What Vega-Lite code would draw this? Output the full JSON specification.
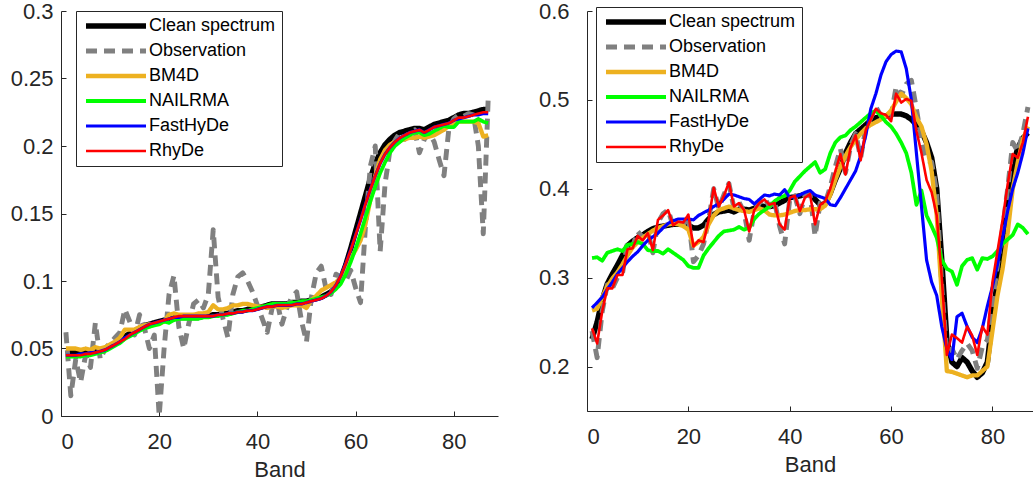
{
"$schema": "https://vega.github.io/schema/vega-lite/v6.json",
"padding": {"left": 10, "top": 0, "right": 0, "bottom": 0},
"background": "white",
"config": {
  "view": {"stroke": null},
  "font": "Liberation Sans",
  "axis": {"domainColor": "#262626", "tickColor": "#262626", "labelColor": "#262626", "titleColor": "#262626", "labelFont": "Liberation Sans", "titleFont": "Liberation Sans", "labelFontSize": 22, "titleFontSize": 22, "titleFontWeight": "normal", "grid": false, "tickSize": -5, "domainWidth": 1, "tickWidth": 1},
  "line": {"strokeCap": "butt", "strokeJoin": "round"}
},
"spacing": 40,
"datasets": {
"left": [
{"series":"Clean spectrum","band":1,"value":0.047},{"series":"Clean spectrum","band":2,"value":0.047},{"series":"Clean spectrum","band":3,"value":0.047},{"series":"Clean spectrum","band":4,"value":0.047},{"series":"Clean spectrum","band":5,"value":0.047},{"series":"Clean spectrum","band":6,"value":0.048},{"series":"Clean spectrum","band":7,"value":0.048},{"series":"Clean spectrum","band":8,"value":0.049},{"series":"Clean spectrum","band":9,"value":0.050},{"series":"Clean spectrum","band":10,"value":0.052},
{"series":"Clean spectrum","band":11,"value":0.054},{"series":"Clean spectrum","band":12,"value":0.056},{"series":"Clean spectrum","band":13,"value":0.059},{"series":"Clean spectrum","band":14,"value":0.061},{"series":"Clean spectrum","band":15,"value":0.063},{"series":"Clean spectrum","band":16,"value":0.065},{"series":"Clean spectrum","band":17,"value":0.067},{"series":"Clean spectrum","band":18,"value":0.068},{"series":"Clean spectrum","band":19,"value":0.069},{"series":"Clean spectrum","band":20,"value":0.070},
{"series":"Clean spectrum","band":21,"value":0.071},{"series":"Clean spectrum","band":22,"value":0.072},{"series":"Clean spectrum","band":23,"value":0.073},{"series":"Clean spectrum","band":24,"value":0.073},{"series":"Clean spectrum","band":25,"value":0.073},{"series":"Clean spectrum","band":26,"value":0.073},{"series":"Clean spectrum","band":27,"value":0.073},{"series":"Clean spectrum","band":28,"value":0.073},{"series":"Clean spectrum","band":29,"value":0.074},{"series":"Clean spectrum","band":30,"value":0.074},
{"series":"Clean spectrum","band":31,"value":0.075},{"series":"Clean spectrum","band":32,"value":0.075},{"series":"Clean spectrum","band":33,"value":0.076},{"series":"Clean spectrum","band":34,"value":0.076},{"series":"Clean spectrum","band":35,"value":0.077},{"series":"Clean spectrum","band":36,"value":0.078},{"series":"Clean spectrum","band":37,"value":0.078},{"series":"Clean spectrum","band":38,"value":0.079},{"series":"Clean spectrum","band":39,"value":0.079},{"series":"Clean spectrum","band":40,"value":0.080},
{"series":"Clean spectrum","band":41,"value":0.081},{"series":"Clean spectrum","band":42,"value":0.082},{"series":"Clean spectrum","band":43,"value":0.083},{"series":"Clean spectrum","band":44,"value":0.083},{"series":"Clean spectrum","band":45,"value":0.083},{"series":"Clean spectrum","band":46,"value":0.083},{"series":"Clean spectrum","band":47,"value":0.084},{"series":"Clean spectrum","band":48,"value":0.084},{"series":"Clean spectrum","band":49,"value":0.085},{"series":"Clean spectrum","band":50,"value":0.085},
{"series":"Clean spectrum","band":51,"value":0.086},{"series":"Clean spectrum","band":52,"value":0.087},{"series":"Clean spectrum","band":53,"value":0.088},{"series":"Clean spectrum","band":54,"value":0.090},{"series":"Clean spectrum","band":55,"value":0.092},{"series":"Clean spectrum","band":56,"value":0.096},{"series":"Clean spectrum","band":57,"value":0.102},{"series":"Clean spectrum","band":58,"value":0.112},{"series":"Clean spectrum","band":59,"value":0.124},{"series":"Clean spectrum","band":60,"value":0.137},
{"series":"Clean spectrum","band":61,"value":0.150},{"series":"Clean spectrum","band":62,"value":0.163},{"series":"Clean spectrum","band":63,"value":0.176},{"series":"Clean spectrum","band":64,"value":0.187},{"series":"Clean spectrum","band":65,"value":0.195},{"series":"Clean spectrum","band":66,"value":0.201},{"series":"Clean spectrum","band":67,"value":0.205},{"series":"Clean spectrum","band":68,"value":0.208},{"series":"Clean spectrum","band":69,"value":0.210},{"series":"Clean spectrum","band":70,"value":0.211},
{"series":"Clean spectrum","band":71,"value":0.212},{"series":"Clean spectrum","band":72,"value":0.213},{"series":"Clean spectrum","band":73,"value":0.213},{"series":"Clean spectrum","band":74,"value":0.212},{"series":"Clean spectrum","band":75,"value":0.214},{"series":"Clean spectrum","band":76,"value":0.216},{"series":"Clean spectrum","band":77,"value":0.217},{"series":"Clean spectrum","band":78,"value":0.218},{"series":"Clean spectrum","band":79,"value":0.219},{"series":"Clean spectrum","band":80,"value":0.221},
{"series":"Clean spectrum","band":81,"value":0.223},{"series":"Clean spectrum","band":82,"value":0.224},{"series":"Clean spectrum","band":83,"value":0.224},{"series":"Clean spectrum","band":84,"value":0.225},{"series":"Clean spectrum","band":85,"value":0.226},{"series":"Clean spectrum","band":86,"value":0.227},{"series":"Clean spectrum","band":87,"value":0.227},
{"series":"Observation","band":1,"value":0.062},{"series":"Observation","band":2,"value":0.015},{"series":"Observation","band":3,"value":0.042},{"series":"Observation","band":4,"value":0.025},{"series":"Observation","band":5,"value":0.045},{"series":"Observation","band":6,"value":0.036},{"series":"Observation","band":7,"value":0.069},{"series":"Observation","band":8,"value":0.042},{"series":"Observation","band":9,"value":0.050},{"series":"Observation","band":10,"value":0.054},
{"series":"Observation","band":11,"value":0.058},{"series":"Observation","band":12,"value":0.062},{"series":"Observation","band":13,"value":0.079},{"series":"Observation","band":14,"value":0.070},{"series":"Observation","band":15,"value":0.060},{"series":"Observation","band":16,"value":0.075},{"series":"Observation","band":17,"value":0.065},{"series":"Observation","band":18,"value":0.050},{"series":"Observation","band":19,"value":0.060},{"series":"Observation","band":20,"value":0.000},
{"series":"Observation","band":21,"value":0.050},{"series":"Observation","band":22,"value":0.090},{"series":"Observation","band":23,"value":0.104},{"series":"Observation","band":24,"value":0.066},{"series":"Observation","band":25,"value":0.050},{"series":"Observation","band":26,"value":0.068},{"series":"Observation","band":27,"value":0.083},{"series":"Observation","band":28,"value":0.086},{"series":"Observation","band":29,"value":0.080},{"series":"Observation","band":30,"value":0.090},
{"series":"Observation","band":31,"value":0.138},{"series":"Observation","band":32,"value":0.088},{"series":"Observation","band":33,"value":0.072},{"series":"Observation","band":34,"value":0.058},{"series":"Observation","band":35,"value":0.090},{"series":"Observation","band":36,"value":0.103},{"series":"Observation","band":37,"value":0.106},{"series":"Observation","band":38,"value":0.100},{"series":"Observation","band":39,"value":0.092},{"series":"Observation","band":40,"value":0.082},
{"series":"Observation","band":41,"value":0.072},{"series":"Observation","band":42,"value":0.062},{"series":"Observation","band":43,"value":0.080},{"series":"Observation","band":44,"value":0.085},{"series":"Observation","band":45,"value":0.068},{"series":"Observation","band":46,"value":0.080},{"series":"Observation","band":47,"value":0.088},{"series":"Observation","band":48,"value":0.092},{"series":"Observation","band":49,"value":0.070},{"series":"Observation","band":50,"value":0.055},
{"series":"Observation","band":51,"value":0.088},{"series":"Observation","band":52,"value":0.106},{"series":"Observation","band":53,"value":0.111},{"series":"Observation","band":54,"value":0.094},{"series":"Observation","band":55,"value":0.090},{"series":"Observation","band":56,"value":0.105},{"series":"Observation","band":57,"value":0.103},{"series":"Observation","band":58,"value":0.100},{"series":"Observation","band":59,"value":0.108},{"series":"Observation","band":60,"value":0.095},
{"series":"Observation","band":61,"value":0.084},{"series":"Observation","band":62,"value":0.140},{"series":"Observation","band":63,"value":0.185},{"series":"Observation","band":64,"value":0.200},{"series":"Observation","band":65,"value":0.122},{"series":"Observation","band":66,"value":0.172},{"series":"Observation","band":67,"value":0.197},{"series":"Observation","band":68,"value":0.204},{"series":"Observation","band":69,"value":0.210},{"series":"Observation","band":70,"value":0.205},
{"series":"Observation","band":71,"value":0.210},{"series":"Observation","band":72,"value":0.212},{"series":"Observation","band":73,"value":0.195},{"series":"Observation","band":74,"value":0.205},{"series":"Observation","band":75,"value":0.210},{"series":"Observation","band":76,"value":0.203},{"series":"Observation","band":77,"value":0.190},{"series":"Observation","band":78,"value":0.178},{"series":"Observation","band":79,"value":0.213},{"series":"Observation","band":80,"value":0.220},
{"series":"Observation","band":81,"value":0.223},{"series":"Observation","band":82,"value":0.222},{"series":"Observation","band":83,"value":0.224},{"series":"Observation","band":84,"value":0.223},{"series":"Observation","band":85,"value":0.200},{"series":"Observation","band":86,"value":0.135},{"series":"Observation","band":87,"value":0.235},
{"series":"BM4D","band":1,"value":0.050},{"series":"BM4D","band":2,"value":0.050},{"series":"BM4D","band":3,"value":0.050},{"series":"BM4D","band":4,"value":0.049},{"series":"BM4D","band":5,"value":0.050},{"series":"BM4D","band":6,"value":0.049},{"series":"BM4D","band":7,"value":0.051},{"series":"BM4D","band":8,"value":0.050},{"series":"BM4D","band":9,"value":0.051},{"series":"BM4D","band":10,"value":0.053},
{"series":"BM4D","band":11,"value":0.055},{"series":"BM4D","band":12,"value":0.058},{"series":"BM4D","band":13,"value":0.064},{"series":"BM4D","band":14,"value":0.064},{"series":"BM4D","band":15,"value":0.064},{"series":"BM4D","band":16,"value":0.066},{"series":"BM4D","band":17,"value":0.067},{"series":"BM4D","band":18,"value":0.068},{"series":"BM4D","band":19,"value":0.068},{"series":"BM4D","band":20,"value":0.068},
{"series":"BM4D","band":21,"value":0.070},{"series":"BM4D","band":22,"value":0.075},{"series":"BM4D","band":23,"value":0.076},{"series":"BM4D","band":24,"value":0.075},{"series":"BM4D","band":25,"value":0.075},{"series":"BM4D","band":26,"value":0.075},{"series":"BM4D","band":27,"value":0.075},{"series":"BM4D","band":28,"value":0.076},{"series":"BM4D","band":29,"value":0.076},{"series":"BM4D","band":30,"value":0.077},
{"series":"BM4D","band":31,"value":0.082},{"series":"BM4D","band":32,"value":0.079},{"series":"BM4D","band":33,"value":0.079},{"series":"BM4D","band":34,"value":0.080},{"series":"BM4D","band":35,"value":0.082},{"series":"BM4D","band":36,"value":0.082},{"series":"BM4D","band":37,"value":0.083},{"series":"BM4D","band":38,"value":0.083},{"series":"BM4D","band":39,"value":0.082},{"series":"BM4D","band":40,"value":0.081},
{"series":"BM4D","band":41,"value":0.081},{"series":"BM4D","band":42,"value":0.080},{"series":"BM4D","band":43,"value":0.081},{"series":"BM4D","band":44,"value":0.081},{"series":"BM4D","band":45,"value":0.080},{"series":"BM4D","band":46,"value":0.081},{"series":"BM4D","band":47,"value":0.082},{"series":"BM4D","band":48,"value":0.082},{"series":"BM4D","band":49,"value":0.082},{"series":"BM4D","band":50,"value":0.080},
{"series":"BM4D","band":51,"value":0.086},{"series":"BM4D","band":52,"value":0.089},{"series":"BM4D","band":53,"value":0.093},{"series":"BM4D","band":54,"value":0.095},{"series":"BM4D","band":55,"value":0.097},{"series":"BM4D","band":56,"value":0.099},{"series":"BM4D","band":57,"value":0.103},{"series":"BM4D","band":58,"value":0.110},{"series":"BM4D","band":59,"value":0.117},{"series":"BM4D","band":60,"value":0.123},
{"series":"BM4D","band":61,"value":0.130},{"series":"BM4D","band":62,"value":0.142},{"series":"BM4D","band":63,"value":0.160},{"series":"BM4D","band":64,"value":0.178},{"series":"BM4D","band":65,"value":0.190},{"series":"BM4D","band":66,"value":0.197},{"series":"BM4D","band":67,"value":0.201},{"series":"BM4D","band":68,"value":0.203},{"series":"BM4D","band":69,"value":0.204},{"series":"BM4D","band":70,"value":0.205},
{"series":"BM4D","band":71,"value":0.206},{"series":"BM4D","band":72,"value":0.206},{"series":"BM4D","band":73,"value":0.207},{"series":"BM4D","band":74,"value":0.206},{"series":"BM4D","band":75,"value":0.207},{"series":"BM4D","band":76,"value":0.208},{"series":"BM4D","band":77,"value":0.210},{"series":"BM4D","band":78,"value":0.212},{"series":"BM4D","band":79,"value":0.215},{"series":"BM4D","band":80,"value":0.217},
{"series":"BM4D","band":81,"value":0.218},{"series":"BM4D","band":82,"value":0.218},{"series":"BM4D","band":83,"value":0.218},{"series":"BM4D","band":84,"value":0.218},{"series":"BM4D","band":85,"value":0.217},{"series":"BM4D","band":86,"value":0.207},{"series":"BM4D","band":87,"value":0.208},
{"series":"NAILRMA","band":1,"value":0.044},{"series":"NAILRMA","band":2,"value":0.044},{"series":"NAILRMA","band":3,"value":0.044},{"series":"NAILRMA","band":4,"value":0.044},{"series":"NAILRMA","band":5,"value":0.045},{"series":"NAILRMA","band":6,"value":0.045},{"series":"NAILRMA","band":7,"value":0.046},{"series":"NAILRMA","band":8,"value":0.047},{"series":"NAILRMA","band":9,"value":0.048},{"series":"NAILRMA","band":10,"value":0.050},
{"series":"NAILRMA","band":11,"value":0.052},{"series":"NAILRMA","band":12,"value":0.054},{"series":"NAILRMA","band":13,"value":0.057},{"series":"NAILRMA","band":14,"value":0.059},{"series":"NAILRMA","band":15,"value":0.061},{"series":"NAILRMA","band":16,"value":0.063},{"series":"NAILRMA","band":17,"value":0.065},{"series":"NAILRMA","band":18,"value":0.066},{"series":"NAILRMA","band":19,"value":0.067},{"series":"NAILRMA","band":20,"value":0.068},
{"series":"NAILRMA","band":21,"value":0.070},{"series":"NAILRMA","band":22,"value":0.069},{"series":"NAILRMA","band":23,"value":0.071},{"series":"NAILRMA","band":24,"value":0.072},{"series":"NAILRMA","band":25,"value":0.072},{"series":"NAILRMA","band":26,"value":0.072},{"series":"NAILRMA","band":27,"value":0.072},{"series":"NAILRMA","band":28,"value":0.072},{"series":"NAILRMA","band":29,"value":0.073},{"series":"NAILRMA","band":30,"value":0.073},
{"series":"NAILRMA","band":31,"value":0.074},{"series":"NAILRMA","band":32,"value":0.074},{"series":"NAILRMA","band":33,"value":0.075},{"series":"NAILRMA","band":34,"value":0.075},{"series":"NAILRMA","band":35,"value":0.076},{"series":"NAILRMA","band":36,"value":0.077},{"series":"NAILRMA","band":37,"value":0.078},{"series":"NAILRMA","band":38,"value":0.078},{"series":"NAILRMA","band":39,"value":0.079},{"series":"NAILRMA","band":40,"value":0.080},
{"series":"NAILRMA","band":41,"value":0.081},{"series":"NAILRMA","band":42,"value":0.082},{"series":"NAILRMA","band":43,"value":0.083},{"series":"NAILRMA","band":44,"value":0.083},{"series":"NAILRMA","band":45,"value":0.083},{"series":"NAILRMA","band":46,"value":0.083},{"series":"NAILRMA","band":47,"value":0.084},{"series":"NAILRMA","band":48,"value":0.084},{"series":"NAILRMA","band":49,"value":0.085},{"series":"NAILRMA","band":50,"value":0.085},
{"series":"NAILRMA","band":51,"value":0.086},{"series":"NAILRMA","band":52,"value":0.087},{"series":"NAILRMA","band":53,"value":0.088},{"series":"NAILRMA","band":54,"value":0.089},{"series":"NAILRMA","band":55,"value":0.091},{"series":"NAILRMA","band":56,"value":0.094},{"series":"NAILRMA","band":57,"value":0.098},{"series":"NAILRMA","band":58,"value":0.105},{"series":"NAILRMA","band":59,"value":0.114},{"series":"NAILRMA","band":60,"value":0.124},
{"series":"NAILRMA","band":61,"value":0.135},{"series":"NAILRMA","band":62,"value":0.147},{"series":"NAILRMA","band":63,"value":0.159},{"series":"NAILRMA","band":64,"value":0.170},{"series":"NAILRMA","band":65,"value":0.180},{"series":"NAILRMA","band":66,"value":0.188},{"series":"NAILRMA","band":67,"value":0.195},{"series":"NAILRMA","band":68,"value":0.200},{"series":"NAILRMA","band":69,"value":0.203},{"series":"NAILRMA","band":70,"value":0.206},
{"series":"NAILRMA","band":71,"value":0.208},{"series":"NAILRMA","band":72,"value":0.210},{"series":"NAILRMA","band":73,"value":0.210},{"series":"NAILRMA","band":74,"value":0.208},{"series":"NAILRMA","band":75,"value":0.209},{"series":"NAILRMA","band":76,"value":0.211},{"series":"NAILRMA","band":77,"value":0.213},{"series":"NAILRMA","band":78,"value":0.215},{"series":"NAILRMA","band":79,"value":0.214},{"series":"NAILRMA","band":80,"value":0.214},
{"series":"NAILRMA","band":81,"value":0.218},{"series":"NAILRMA","band":82,"value":0.218},{"series":"NAILRMA","band":83,"value":0.218},{"series":"NAILRMA","band":84,"value":0.218},{"series":"NAILRMA","band":85,"value":0.220},{"series":"NAILRMA","band":86,"value":0.218},{"series":"NAILRMA","band":87,"value":0.217},
{"series":"FastHyDe","band":1,"value":0.045},{"series":"FastHyDe","band":2,"value":0.045},{"series":"FastHyDe","band":3,"value":0.045},{"series":"FastHyDe","band":4,"value":0.046},{"series":"FastHyDe","band":5,"value":0.046},{"series":"FastHyDe","band":6,"value":0.047},{"series":"FastHyDe","band":7,"value":0.047},{"series":"FastHyDe","band":8,"value":0.048},{"series":"FastHyDe","band":9,"value":0.049},{"series":"FastHyDe","band":10,"value":0.051},
{"series":"FastHyDe","band":11,"value":0.053},{"series":"FastHyDe","band":12,"value":0.055},{"series":"FastHyDe","band":13,"value":0.058},{"series":"FastHyDe","band":14,"value":0.060},{"series":"FastHyDe","band":15,"value":0.062},{"series":"FastHyDe","band":16,"value":0.064},{"series":"FastHyDe","band":17,"value":0.066},{"series":"FastHyDe","band":18,"value":0.068},{"series":"FastHyDe","band":19,"value":0.069},{"series":"FastHyDe","band":20,"value":0.070},
{"series":"FastHyDe","band":21,"value":0.071},{"series":"FastHyDe","band":22,"value":0.072},{"series":"FastHyDe","band":23,"value":0.073},{"series":"FastHyDe","band":24,"value":0.073},{"series":"FastHyDe","band":25,"value":0.074},{"series":"FastHyDe","band":26,"value":0.074},{"series":"FastHyDe","band":27,"value":0.074},{"series":"FastHyDe","band":28,"value":0.074},{"series":"FastHyDe","band":29,"value":0.074},{"series":"FastHyDe","band":30,"value":0.074},
{"series":"FastHyDe","band":31,"value":0.074},{"series":"FastHyDe","band":32,"value":0.075},{"series":"FastHyDe","band":33,"value":0.075},{"series":"FastHyDe","band":34,"value":0.076},{"series":"FastHyDe","band":35,"value":0.076},{"series":"FastHyDe","band":36,"value":0.077},{"series":"FastHyDe","band":37,"value":0.077},{"series":"FastHyDe","band":38,"value":0.078},{"series":"FastHyDe","band":39,"value":0.078},{"series":"FastHyDe","band":40,"value":0.079},
{"series":"FastHyDe","band":41,"value":0.080},{"series":"FastHyDe","band":42,"value":0.081},{"series":"FastHyDe","band":43,"value":0.081},{"series":"FastHyDe","band":44,"value":0.082},{"series":"FastHyDe","band":45,"value":0.082},{"series":"FastHyDe","band":46,"value":0.082},{"series":"FastHyDe","band":47,"value":0.082},{"series":"FastHyDe","band":48,"value":0.083},{"series":"FastHyDe","band":49,"value":0.083},{"series":"FastHyDe","band":50,"value":0.084},
{"series":"FastHyDe","band":51,"value":0.085},{"series":"FastHyDe","band":52,"value":0.086},{"series":"FastHyDe","band":53,"value":0.087},{"series":"FastHyDe","band":54,"value":0.089},{"series":"FastHyDe","band":55,"value":0.092},{"series":"FastHyDe","band":56,"value":0.097},{"series":"FastHyDe","band":57,"value":0.104},{"series":"FastHyDe","band":58,"value":0.113},{"series":"FastHyDe","band":59,"value":0.123},{"series":"FastHyDe","band":60,"value":0.134},
{"series":"FastHyDe","band":61,"value":0.145},{"series":"FastHyDe","band":62,"value":0.157},{"series":"FastHyDe","band":63,"value":0.168},{"series":"FastHyDe","band":64,"value":0.178},{"series":"FastHyDe","band":65,"value":0.187},{"series":"FastHyDe","band":66,"value":0.194},{"series":"FastHyDe","band":67,"value":0.199},{"series":"FastHyDe","band":68,"value":0.203},{"series":"FastHyDe","band":69,"value":0.206},{"series":"FastHyDe","band":70,"value":0.208},
{"series":"FastHyDe","band":71,"value":0.210},{"series":"FastHyDe","band":72,"value":0.211},{"series":"FastHyDe","band":73,"value":0.212},{"series":"FastHyDe","band":74,"value":0.210},{"series":"FastHyDe","band":75,"value":0.212},{"series":"FastHyDe","band":76,"value":0.214},{"series":"FastHyDe","band":77,"value":0.215},{"series":"FastHyDe","band":78,"value":0.216},{"series":"FastHyDe","band":79,"value":0.217},{"series":"FastHyDe","band":80,"value":0.219},
{"series":"FastHyDe","band":81,"value":0.220},{"series":"FastHyDe","band":82,"value":0.221},{"series":"FastHyDe","band":83,"value":0.222},{"series":"FastHyDe","band":84,"value":0.223},{"series":"FastHyDe","band":85,"value":0.223},{"series":"FastHyDe","band":86,"value":0.224},{"series":"FastHyDe","band":87,"value":0.224},
{"series":"RhyDe","band":1,"value":0.045},{"series":"RhyDe","band":2,"value":0.045},{"series":"RhyDe","band":3,"value":0.045},{"series":"RhyDe","band":4,"value":0.045},{"series":"RhyDe","band":5,"value":0.046},{"series":"RhyDe","band":6,"value":0.046},{"series":"RhyDe","band":7,"value":0.047},{"series":"RhyDe","band":8,"value":0.048},{"series":"RhyDe","band":9,"value":0.049},{"series":"RhyDe","band":10,"value":0.051},
{"series":"RhyDe","band":11,"value":0.053},{"series":"RhyDe","band":12,"value":0.055},{"series":"RhyDe","band":13,"value":0.057},{"series":"RhyDe","band":14,"value":0.060},{"series":"RhyDe","band":15,"value":0.062},{"series":"RhyDe","band":16,"value":0.064},{"series":"RhyDe","band":17,"value":0.066},{"series":"RhyDe","band":18,"value":0.068},{"series":"RhyDe","band":19,"value":0.069},{"series":"RhyDe","band":20,"value":0.070},
{"series":"RhyDe","band":21,"value":0.071},{"series":"RhyDe","band":22,"value":0.072},{"series":"RhyDe","band":23,"value":0.073},{"series":"RhyDe","band":24,"value":0.074},{"series":"RhyDe","band":25,"value":0.074},{"series":"RhyDe","band":26,"value":0.074},{"series":"RhyDe","band":27,"value":0.074},{"series":"RhyDe","band":28,"value":0.074},{"series":"RhyDe","band":29,"value":0.074},{"series":"RhyDe","band":30,"value":0.074},
{"series":"RhyDe","band":31,"value":0.074},{"series":"RhyDe","band":32,"value":0.075},{"series":"RhyDe","band":33,"value":0.075},{"series":"RhyDe","band":34,"value":0.076},{"series":"RhyDe","band":35,"value":0.076},{"series":"RhyDe","band":36,"value":0.077},{"series":"RhyDe","band":37,"value":0.077},{"series":"RhyDe","band":38,"value":0.078},{"series":"RhyDe","band":39,"value":0.078},{"series":"RhyDe","band":40,"value":0.079},
{"series":"RhyDe","band":41,"value":0.080},{"series":"RhyDe","band":42,"value":0.081},{"series":"RhyDe","band":43,"value":0.081},{"series":"RhyDe","band":44,"value":0.082},{"series":"RhyDe","band":45,"value":0.082},{"series":"RhyDe","band":46,"value":0.082},{"series":"RhyDe","band":47,"value":0.082},{"series":"RhyDe","band":48,"value":0.083},{"series":"RhyDe","band":49,"value":0.083},{"series":"RhyDe","band":50,"value":0.084},
{"series":"RhyDe","band":51,"value":0.085},{"series":"RhyDe","band":52,"value":0.086},{"series":"RhyDe","band":53,"value":0.087},{"series":"RhyDe","band":54,"value":0.089},{"series":"RhyDe","band":55,"value":0.092},{"series":"RhyDe","band":56,"value":0.097},{"series":"RhyDe","band":57,"value":0.104},{"series":"RhyDe","band":58,"value":0.113},{"series":"RhyDe","band":59,"value":0.123},{"series":"RhyDe","band":60,"value":0.134},
{"series":"RhyDe","band":61,"value":0.145},{"series":"RhyDe","band":62,"value":0.157},{"series":"RhyDe","band":63,"value":0.168},{"series":"RhyDe","band":64,"value":0.178},{"series":"RhyDe","band":65,"value":0.187},{"series":"RhyDe","band":66,"value":0.194},{"series":"RhyDe","band":67,"value":0.199},{"series":"RhyDe","band":68,"value":0.203},{"series":"RhyDe","band":69,"value":0.206},{"series":"RhyDe","band":70,"value":0.208},
{"series":"RhyDe","band":71,"value":0.210},{"series":"RhyDe","band":72,"value":0.211},{"series":"RhyDe","band":73,"value":0.212},{"series":"RhyDe","band":74,"value":0.210},{"series":"RhyDe","band":75,"value":0.212},{"series":"RhyDe","band":76,"value":0.214},{"series":"RhyDe","band":77,"value":0.215},{"series":"RhyDe","band":78,"value":0.216},{"series":"RhyDe","band":79,"value":0.217},{"series":"RhyDe","band":80,"value":0.219},
{"series":"RhyDe","band":81,"value":0.221},{"series":"RhyDe","band":82,"value":0.221},{"series":"RhyDe","band":83,"value":0.222},{"series":"RhyDe","band":84,"value":0.223},{"series":"RhyDe","band":85,"value":0.224},{"series":"RhyDe","band":86,"value":0.225},{"series":"RhyDe","band":87,"value":0.225}
],
"right": [
{"series":"Clean spectrum","band":1,"value":0.231},{"series":"Clean spectrum","band":2,"value":0.250},{"series":"Clean spectrum","band":3,"value":0.275},{"series":"Clean spectrum","band":4,"value":0.293},{"series":"Clean spectrum","band":5,"value":0.304},{"series":"Clean spectrum","band":6,"value":0.314},{"series":"Clean spectrum","band":7,"value":0.325},{"series":"Clean spectrum","band":8,"value":0.336},{"series":"Clean spectrum","band":9,"value":0.341},{"series":"Clean spectrum","band":10,"value":0.345},
{"series":"Clean spectrum","band":11,"value":0.348},{"series":"Clean spectrum","band":12,"value":0.352},{"series":"Clean spectrum","band":13,"value":0.355},{"series":"Clean spectrum","band":14,"value":0.357},{"series":"Clean spectrum","band":15,"value":0.358},{"series":"Clean spectrum","band":16,"value":0.359},{"series":"Clean spectrum","band":17,"value":0.360},{"series":"Clean spectrum","band":18,"value":0.360},{"series":"Clean spectrum","band":19,"value":0.361},{"series":"Clean spectrum","band":20,"value":0.359},
{"series":"Clean spectrum","band":21,"value":0.356},{"series":"Clean spectrum","band":22,"value":0.356},{"series":"Clean spectrum","band":23,"value":0.359},{"series":"Clean spectrum","band":24,"value":0.366},{"series":"Clean spectrum","band":25,"value":0.371},{"series":"Clean spectrum","band":26,"value":0.374},{"series":"Clean spectrum","band":27,"value":0.375},{"series":"Clean spectrum","band":28,"value":0.376},{"series":"Clean spectrum","band":29,"value":0.374},{"series":"Clean spectrum","band":30,"value":0.377},
{"series":"Clean spectrum","band":31,"value":0.377},{"series":"Clean spectrum","band":32,"value":0.376},{"series":"Clean spectrum","band":33,"value":0.378},{"series":"Clean spectrum","band":34,"value":0.381},{"series":"Clean spectrum","band":35,"value":0.380},{"series":"Clean spectrum","band":36,"value":0.380},{"series":"Clean spectrum","band":37,"value":0.381},{"series":"Clean spectrum","band":38,"value":0.384},{"series":"Clean spectrum","band":39,"value":0.387},{"series":"Clean spectrum","band":40,"value":0.390},
{"series":"Clean spectrum","band":41,"value":0.391},{"series":"Clean spectrum","band":42,"value":0.392},{"series":"Clean spectrum","band":43,"value":0.394},{"series":"Clean spectrum","band":44,"value":0.395},{"series":"Clean spectrum","band":45,"value":0.388},{"series":"Clean spectrum","band":46,"value":0.382},{"series":"Clean spectrum","band":47,"value":0.383},{"series":"Clean spectrum","band":48,"value":0.395},{"series":"Clean spectrum","band":49,"value":0.410},{"series":"Clean spectrum","band":50,"value":0.423},
{"series":"Clean spectrum","band":51,"value":0.440},{"series":"Clean spectrum","band":52,"value":0.452},{"series":"Clean spectrum","band":53,"value":0.462},{"series":"Clean spectrum","band":54,"value":0.467},{"series":"Clean spectrum","band":55,"value":0.472},{"series":"Clean spectrum","band":56,"value":0.477},{"series":"Clean spectrum","band":57,"value":0.480},{"series":"Clean spectrum","band":58,"value":0.481},{"series":"Clean spectrum","band":59,"value":0.482},{"series":"Clean spectrum","band":60,"value":0.484},
{"series":"Clean spectrum","band":61,"value":0.484},{"series":"Clean spectrum","band":62,"value":0.484},{"series":"Clean spectrum","band":63,"value":0.482},{"series":"Clean spectrum","band":64,"value":0.478},{"series":"Clean spectrum","band":65,"value":0.472},{"series":"Clean spectrum","band":66,"value":0.465},{"series":"Clean spectrum","band":67,"value":0.452},{"series":"Clean spectrum","band":68,"value":0.435},{"series":"Clean spectrum","band":69,"value":0.400},{"series":"Clean spectrum","band":70,"value":0.320},
{"series":"Clean spectrum","band":71,"value":0.230},{"series":"Clean spectrum","band":72,"value":0.205},{"series":"Clean spectrum","band":73,"value":0.200},{"series":"Clean spectrum","band":74,"value":0.210},{"series":"Clean spectrum","band":75,"value":0.205},{"series":"Clean spectrum","band":76,"value":0.195},{"series":"Clean spectrum","band":77,"value":0.188},{"series":"Clean spectrum","band":78,"value":0.193},{"series":"Clean spectrum","band":79,"value":0.205},{"series":"Clean spectrum","band":80,"value":0.255},
{"series":"Clean spectrum","band":81,"value":0.297},{"series":"Clean spectrum","band":82,"value":0.338},{"series":"Clean spectrum","band":83,"value":0.385},{"series":"Clean spectrum","band":84,"value":0.425},{"series":"Clean spectrum","band":85,"value":0.446},{"series":"Clean spectrum","band":86,"value":0.457},{"series":"Clean spectrum","band":87,"value":0.463},
{"series":"Observation","band":1,"value":0.240},{"series":"Observation","band":2,"value":0.210},{"series":"Observation","band":3,"value":0.262},{"series":"Observation","band":4,"value":0.292},{"series":"Observation","band":5,"value":0.288},{"series":"Observation","band":6,"value":0.300},{"series":"Observation","band":7,"value":0.305},{"series":"Observation","band":8,"value":0.340},{"series":"Observation","band":9,"value":0.335},{"series":"Observation","band":10,"value":0.352},
{"series":"Observation","band":11,"value":0.345},{"series":"Observation","band":12,"value":0.352},{"series":"Observation","band":13,"value":0.328},{"series":"Observation","band":14,"value":0.362},{"series":"Observation","band":15,"value":0.372},{"series":"Observation","band":16,"value":0.376},{"series":"Observation","band":17,"value":0.358},{"series":"Observation","band":18,"value":0.362},{"series":"Observation","band":19,"value":0.360},{"series":"Observation","band":20,"value":0.368},
{"series":"Observation","band":21,"value":0.318},{"series":"Observation","band":22,"value":0.325},{"series":"Observation","band":23,"value":0.338},{"series":"Observation","band":24,"value":0.365},{"series":"Observation","band":25,"value":0.400},{"series":"Observation","band":26,"value":0.378},{"series":"Observation","band":27,"value":0.393},{"series":"Observation","band":28,"value":0.406},{"series":"Observation","band":29,"value":0.378},{"series":"Observation","band":30,"value":0.385},
{"series":"Observation","band":31,"value":0.374},{"series":"Observation","band":32,"value":0.342},{"series":"Observation","band":33,"value":0.375},{"series":"Observation","band":34,"value":0.384},{"series":"Observation","band":35,"value":0.390},{"series":"Observation","band":36,"value":0.380},{"series":"Observation","band":37,"value":0.386},{"series":"Observation","band":38,"value":0.358},{"series":"Observation","band":39,"value":0.338},{"series":"Observation","band":40,"value":0.388},
{"series":"Observation","band":41,"value":0.392},{"series":"Observation","band":42,"value":0.372},{"series":"Observation","band":43,"value":0.392},{"series":"Observation","band":44,"value":0.394},{"series":"Observation","band":45,"value":0.347},{"series":"Observation","band":46,"value":0.384},{"series":"Observation","band":47,"value":0.384},{"series":"Observation","band":48,"value":0.402},{"series":"Observation","band":49,"value":0.425},{"series":"Observation","band":50,"value":0.445},
{"series":"Observation","band":51,"value":0.418},{"series":"Observation","band":52,"value":0.448},{"series":"Observation","band":53,"value":0.462},{"series":"Observation","band":54,"value":0.435},{"series":"Observation","band":55,"value":0.468},{"series":"Observation","band":56,"value":0.480},{"series":"Observation","band":57,"value":0.492},{"series":"Observation","band":58,"value":0.482},{"series":"Observation","band":59,"value":0.480},{"series":"Observation","band":60,"value":0.482},
{"series":"Observation","band":61,"value":0.515},{"series":"Observation","band":62,"value":0.505},{"series":"Observation","band":63,"value":0.518},{"series":"Observation","band":64,"value":0.522},{"series":"Observation","band":65,"value":0.490},{"series":"Observation","band":66,"value":0.455},{"series":"Observation","band":67,"value":0.432},{"series":"Observation","band":68,"value":0.430},{"series":"Observation","band":69,"value":0.395},{"series":"Observation","band":70,"value":0.290},
{"series":"Observation","band":71,"value":0.215},{"series":"Observation","band":72,"value":0.220},{"series":"Observation","band":73,"value":0.208},{"series":"Observation","band":74,"value":0.218},{"series":"Observation","band":75,"value":0.226},{"series":"Observation","band":76,"value":0.218},{"series":"Observation","band":77,"value":0.198},{"series":"Observation","band":78,"value":0.222},{"series":"Observation","band":79,"value":0.230},{"series":"Observation","band":80,"value":0.270},
{"series":"Observation","band":81,"value":0.315},{"series":"Observation","band":82,"value":0.355},{"series":"Observation","band":83,"value":0.400},{"series":"Observation","band":84,"value":0.452},{"series":"Observation","band":85,"value":0.442},{"series":"Observation","band":86,"value":0.462},{"series":"Observation","band":87,"value":0.492},
{"series":"BM4D","band":1,"value":0.263},{"series":"BM4D","band":2,"value":0.265},{"series":"BM4D","band":3,"value":0.278},{"series":"BM4D","band":4,"value":0.290},{"series":"BM4D","band":5,"value":0.299},{"series":"BM4D","band":6,"value":0.306},{"series":"BM4D","band":7,"value":0.315},{"series":"BM4D","band":8,"value":0.325},{"series":"BM4D","band":9,"value":0.334},{"series":"BM4D","band":10,"value":0.340},
{"series":"BM4D","band":11,"value":0.345},{"series":"BM4D","band":12,"value":0.349},{"series":"BM4D","band":13,"value":0.353},{"series":"BM4D","band":14,"value":0.356},{"series":"BM4D","band":15,"value":0.358},{"series":"BM4D","band":16,"value":0.360},{"series":"BM4D","band":17,"value":0.361},{"series":"BM4D","band":18,"value":0.360},{"series":"BM4D","band":19,"value":0.358},{"series":"BM4D","band":20,"value":0.354},
{"series":"BM4D","band":21,"value":0.336},{"series":"BM4D","band":22,"value":0.340},{"series":"BM4D","band":23,"value":0.346},{"series":"BM4D","band":24,"value":0.360},{"series":"BM4D","band":25,"value":0.370},{"series":"BM4D","band":26,"value":0.376},{"series":"BM4D","band":27,"value":0.378},{"series":"BM4D","band":28,"value":0.380},{"series":"BM4D","band":29,"value":0.378},{"series":"BM4D","band":30,"value":0.376},
{"series":"BM4D","band":31,"value":0.375},{"series":"BM4D","band":32,"value":0.374},{"series":"BM4D","band":33,"value":0.376},{"series":"BM4D","band":34,"value":0.378},{"series":"BM4D","band":35,"value":0.376},{"series":"BM4D","band":36,"value":0.371},{"series":"BM4D","band":37,"value":0.370},{"series":"BM4D","band":38,"value":0.370},{"series":"BM4D","band":39,"value":0.371},{"series":"BM4D","band":40,"value":0.373},
{"series":"BM4D","band":41,"value":0.375},{"series":"BM4D","band":42,"value":0.376},{"series":"BM4D","band":43,"value":0.376},{"series":"BM4D","band":44,"value":0.377},{"series":"BM4D","band":45,"value":0.377},{"series":"BM4D","band":46,"value":0.377},{"series":"BM4D","band":47,"value":0.381},{"series":"BM4D","band":48,"value":0.393},{"series":"BM4D","band":49,"value":0.410},{"series":"BM4D","band":50,"value":0.425},
{"series":"BM4D","band":51,"value":0.437},{"series":"BM4D","band":52,"value":0.447},{"series":"BM4D","band":53,"value":0.455},{"series":"BM4D","band":54,"value":0.462},{"series":"BM4D","band":55,"value":0.468},{"series":"BM4D","band":56,"value":0.472},{"series":"BM4D","band":57,"value":0.475},{"series":"BM4D","band":58,"value":0.478},{"series":"BM4D","band":59,"value":0.482},{"series":"BM4D","band":60,"value":0.488},
{"series":"BM4D","band":61,"value":0.498},{"series":"BM4D","band":62,"value":0.507},{"series":"BM4D","band":63,"value":0.502},{"series":"BM4D","band":64,"value":0.495},{"series":"BM4D","band":65,"value":0.480},{"series":"BM4D","band":66,"value":0.470},{"series":"BM4D","band":67,"value":0.450},{"series":"BM4D","band":68,"value":0.420},{"series":"BM4D","band":69,"value":0.370},{"series":"BM4D","band":70,"value":0.280},
{"series":"BM4D","band":71,"value":0.195},{"series":"BM4D","band":72,"value":0.194},{"series":"BM4D","band":73,"value":0.192},{"series":"BM4D","band":74,"value":0.190},{"series":"BM4D","band":75,"value":0.188},{"series":"BM4D","band":76,"value":0.190},{"series":"BM4D","band":77,"value":0.190},{"series":"BM4D","band":78,"value":0.195},{"series":"BM4D","band":79,"value":0.200},{"series":"BM4D","band":80,"value":0.240},
{"series":"BM4D","band":81,"value":0.280},{"series":"BM4D","band":82,"value":0.310},{"series":"BM4D","band":83,"value":0.350},{"series":"BM4D","band":84,"value":0.400},{"series":"BM4D","band":85,"value":0.430},{"series":"BM4D","band":86,"value":0.455},{"series":"BM4D","band":87,"value":0.470},
{"series":"NAILRMA","band":1,"value":0.322},{"series":"NAILRMA","band":2,"value":0.323},{"series":"NAILRMA","band":3,"value":0.319},{"series":"NAILRMA","band":4,"value":0.328},{"series":"NAILRMA","band":5,"value":0.330},{"series":"NAILRMA","band":6,"value":0.332},{"series":"NAILRMA","band":7,"value":0.330},{"series":"NAILRMA","band":8,"value":0.337},{"series":"NAILRMA","band":9,"value":0.338},{"series":"NAILRMA","band":10,"value":0.340},
{"series":"NAILRMA","band":11,"value":0.338},{"series":"NAILRMA","band":12,"value":0.331},{"series":"NAILRMA","band":13,"value":0.330},{"series":"NAILRMA","band":14,"value":0.330},{"series":"NAILRMA","band":15,"value":0.327},{"series":"NAILRMA","band":16,"value":0.332},{"series":"NAILRMA","band":17,"value":0.328},{"series":"NAILRMA","band":18,"value":0.324},{"series":"NAILRMA","band":19,"value":0.320},{"series":"NAILRMA","band":20,"value":0.313},
{"series":"NAILRMA","band":21,"value":0.311},{"series":"NAILRMA","band":22,"value":0.311},{"series":"NAILRMA","band":23,"value":0.325},{"series":"NAILRMA","band":24,"value":0.333},{"series":"NAILRMA","band":25,"value":0.340},{"series":"NAILRMA","band":26,"value":0.347},{"series":"NAILRMA","band":27,"value":0.352},{"series":"NAILRMA","band":28,"value":0.353},{"series":"NAILRMA","band":29,"value":0.354},{"series":"NAILRMA","band":30,"value":0.357},
{"series":"NAILRMA","band":31,"value":0.354},{"series":"NAILRMA","band":32,"value":0.356},{"series":"NAILRMA","band":33,"value":0.366},{"series":"NAILRMA","band":34,"value":0.372},{"series":"NAILRMA","band":35,"value":0.376},{"series":"NAILRMA","band":36,"value":0.380},{"series":"NAILRMA","band":37,"value":0.386},{"series":"NAILRMA","band":38,"value":0.390},{"series":"NAILRMA","band":39,"value":0.392},{"series":"NAILRMA","band":40,"value":0.398},
{"series":"NAILRMA","band":41,"value":0.408},{"series":"NAILRMA","band":42,"value":0.414},{"series":"NAILRMA","band":43,"value":0.420},{"series":"NAILRMA","band":44,"value":0.425},{"series":"NAILRMA","band":45,"value":0.430},{"series":"NAILRMA","band":46,"value":0.418},{"series":"NAILRMA","band":47,"value":0.422},{"series":"NAILRMA","band":48,"value":0.440},{"series":"NAILRMA","band":49,"value":0.452},{"series":"NAILRMA","band":50,"value":0.458},
{"series":"NAILRMA","band":51,"value":0.460},{"series":"NAILRMA","band":52,"value":0.466},{"series":"NAILRMA","band":53,"value":0.470},{"series":"NAILRMA","band":54,"value":0.475},{"series":"NAILRMA","band":55,"value":0.480},{"series":"NAILRMA","band":56,"value":0.485},{"series":"NAILRMA","band":57,"value":0.488},{"series":"NAILRMA","band":58,"value":0.482},{"series":"NAILRMA","band":59,"value":0.475},{"series":"NAILRMA","band":60,"value":0.470},
{"series":"NAILRMA","band":61,"value":0.462},{"series":"NAILRMA","band":62,"value":0.452},{"series":"NAILRMA","band":63,"value":0.440},{"series":"NAILRMA","band":64,"value":0.418},{"series":"NAILRMA","band":65,"value":0.382},{"series":"NAILRMA","band":66,"value":0.398},{"series":"NAILRMA","band":67,"value":0.370},{"series":"NAILRMA","band":68,"value":0.358},{"series":"NAILRMA","band":69,"value":0.345},{"series":"NAILRMA","band":70,"value":0.320},
{"series":"NAILRMA","band":71,"value":0.310},{"series":"NAILRMA","band":72,"value":0.307},{"series":"NAILRMA","band":73,"value":0.292},{"series":"NAILRMA","band":74,"value":0.313},{"series":"NAILRMA","band":75,"value":0.320},{"series":"NAILRMA","band":76,"value":0.322},{"series":"NAILRMA","band":77,"value":0.309},{"series":"NAILRMA","band":78,"value":0.322},{"series":"NAILRMA","band":79,"value":0.321},{"series":"NAILRMA","band":80,"value":0.324},
{"series":"NAILRMA","band":81,"value":0.330},{"series":"NAILRMA","band":82,"value":0.338},{"series":"NAILRMA","band":83,"value":0.343},{"series":"NAILRMA","band":84,"value":0.348},{"series":"NAILRMA","band":85,"value":0.360},{"series":"NAILRMA","band":86,"value":0.356},{"series":"NAILRMA","band":87,"value":0.349},
{"series":"FastHyDe","band":1,"value":0.266},{"series":"FastHyDe","band":2,"value":0.272},{"series":"FastHyDe","band":3,"value":0.278},{"series":"FastHyDe","band":4,"value":0.287},{"series":"FastHyDe","band":5,"value":0.295},{"series":"FastHyDe","band":6,"value":0.304},{"series":"FastHyDe","band":7,"value":0.311},{"series":"FastHyDe","band":8,"value":0.318},{"series":"FastHyDe","band":9,"value":0.324},{"series":"FastHyDe","band":10,"value":0.329},
{"series":"FastHyDe","band":11,"value":0.336},{"series":"FastHyDe","band":12,"value":0.342},{"series":"FastHyDe","band":13,"value":0.346},{"series":"FastHyDe","band":14,"value":0.350},{"series":"FastHyDe","band":15,"value":0.356},{"series":"FastHyDe","band":16,"value":0.361},{"series":"FastHyDe","band":17,"value":0.364},{"series":"FastHyDe","band":18,"value":0.366},{"series":"FastHyDe","band":19,"value":0.366},{"series":"FastHyDe","band":20,"value":0.366},
{"series":"FastHyDe","band":21,"value":0.365},{"series":"FastHyDe","band":22,"value":0.370},{"series":"FastHyDe","band":23,"value":0.373},{"series":"FastHyDe","band":24,"value":0.376},{"series":"FastHyDe","band":25,"value":0.380},{"series":"FastHyDe","band":26,"value":0.383},{"series":"FastHyDe","band":27,"value":0.388},{"series":"FastHyDe","band":28,"value":0.394},{"series":"FastHyDe","band":29,"value":0.393},{"series":"FastHyDe","band":30,"value":0.391},
{"series":"FastHyDe","band":31,"value":0.389},{"series":"FastHyDe","band":32,"value":0.388},{"series":"FastHyDe","band":33,"value":0.383},{"series":"FastHyDe","band":34,"value":0.388},{"series":"FastHyDe","band":35,"value":0.393},{"series":"FastHyDe","band":36,"value":0.392},{"series":"FastHyDe","band":37,"value":0.394},{"series":"FastHyDe","band":38,"value":0.393},{"series":"FastHyDe","band":39,"value":0.399},{"series":"FastHyDe","band":40,"value":0.390},
{"series":"FastHyDe","band":41,"value":0.391},{"series":"FastHyDe","band":42,"value":0.393},{"series":"FastHyDe","band":43,"value":0.396},{"series":"FastHyDe","band":44,"value":0.398},{"series":"FastHyDe","band":45,"value":0.393},{"series":"FastHyDe","band":46,"value":0.391},{"series":"FastHyDe","band":47,"value":0.389},{"series":"FastHyDe","band":48,"value":0.382},{"series":"FastHyDe","band":49,"value":0.381},{"series":"FastHyDe","band":50,"value":0.390},
{"series":"FastHyDe","band":51,"value":0.400},{"series":"FastHyDe","band":52,"value":0.410},{"series":"FastHyDe","band":53,"value":0.420},{"series":"FastHyDe","band":54,"value":0.437},{"series":"FastHyDe","band":55,"value":0.460},{"series":"FastHyDe","band":56,"value":0.490},{"series":"FastHyDe","band":57,"value":0.507},{"series":"FastHyDe","band":58,"value":0.528},{"series":"FastHyDe","band":59,"value":0.543},{"series":"FastHyDe","band":60,"value":0.551},
{"series":"FastHyDe","band":61,"value":0.555},{"series":"FastHyDe","band":62,"value":0.554},{"series":"FastHyDe","band":63,"value":0.535},{"series":"FastHyDe","band":64,"value":0.500},{"series":"FastHyDe","band":65,"value":0.440},{"series":"FastHyDe","band":66,"value":0.380},{"series":"FastHyDe","band":67,"value":0.320},{"series":"FastHyDe","band":68,"value":0.295},{"series":"FastHyDe","band":69,"value":0.280},{"series":"FastHyDe","band":70,"value":0.245},
{"series":"FastHyDe","band":71,"value":0.220},{"series":"FastHyDe","band":72,"value":0.208},{"series":"FastHyDe","band":73,"value":0.256},{"series":"FastHyDe","band":74,"value":0.260},{"series":"FastHyDe","band":75,"value":0.245},{"series":"FastHyDe","band":76,"value":0.233},{"series":"FastHyDe","band":77,"value":0.227},{"series":"FastHyDe","band":78,"value":0.243},{"series":"FastHyDe","band":79,"value":0.268},{"series":"FastHyDe","band":80,"value":0.290},
{"series":"FastHyDe","band":81,"value":0.315},{"series":"FastHyDe","band":82,"value":0.345},{"series":"FastHyDe","band":83,"value":0.375},{"series":"FastHyDe","band":84,"value":0.400},{"series":"FastHyDe","band":85,"value":0.418},{"series":"FastHyDe","band":86,"value":0.440},{"series":"FastHyDe","band":87,"value":0.468},
{"series":"RhyDe","band":1,"value":0.243},{"series":"RhyDe","band":2,"value":0.226},{"series":"RhyDe","band":3,"value":0.262},{"series":"RhyDe","band":4,"value":0.288},{"series":"RhyDe","band":5,"value":0.288},{"series":"RhyDe","band":6,"value":0.303},{"series":"RhyDe","band":7,"value":0.303},{"series":"RhyDe","band":8,"value":0.332},{"series":"RhyDe","band":9,"value":0.333},{"series":"RhyDe","band":10,"value":0.347},
{"series":"RhyDe","band":11,"value":0.342},{"series":"RhyDe","band":12,"value":0.350},{"series":"RhyDe","band":13,"value":0.331},{"series":"RhyDe","band":14,"value":0.365},{"series":"RhyDe","band":15,"value":0.370},{"series":"RhyDe","band":16,"value":0.376},{"series":"RhyDe","band":17,"value":0.359},{"series":"RhyDe","band":18,"value":0.363},{"series":"RhyDe","band":19,"value":0.362},{"series":"RhyDe","band":20,"value":0.371},
{"series":"RhyDe","band":21,"value":0.335},{"series":"RhyDe","band":22,"value":0.342},{"series":"RhyDe","band":23,"value":0.340},{"series":"RhyDe","band":24,"value":0.365},{"series":"RhyDe","band":25,"value":0.401},{"series":"RhyDe","band":26,"value":0.380},{"series":"RhyDe","band":27,"value":0.392},{"series":"RhyDe","band":28,"value":0.407},{"series":"RhyDe","band":29,"value":0.380},{"series":"RhyDe","band":30,"value":0.384},
{"series":"RhyDe","band":31,"value":0.376},{"series":"RhyDe","band":32,"value":0.352},{"series":"RhyDe","band":33,"value":0.376},{"series":"RhyDe","band":34,"value":0.384},{"series":"RhyDe","band":35,"value":0.388},{"series":"RhyDe","band":36,"value":0.382},{"series":"RhyDe","band":37,"value":0.384},{"series":"RhyDe","band":38,"value":0.360},{"series":"RhyDe","band":39,"value":0.354},{"series":"RhyDe","band":40,"value":0.390},
{"series":"RhyDe","band":41,"value":0.392},{"series":"RhyDe","band":42,"value":0.375},{"series":"RhyDe","band":43,"value":0.390},{"series":"RhyDe","band":44,"value":0.394},{"series":"RhyDe","band":45,"value":0.360},{"series":"RhyDe","band":46,"value":0.382},{"series":"RhyDe","band":47,"value":0.386},{"series":"RhyDe","band":48,"value":0.400},{"series":"RhyDe","band":49,"value":0.420},{"series":"RhyDe","band":50,"value":0.439},
{"series":"RhyDe","band":51,"value":0.416},{"series":"RhyDe","band":52,"value":0.446},{"series":"RhyDe","band":53,"value":0.460},{"series":"RhyDe","band":54,"value":0.432},{"series":"RhyDe","band":55,"value":0.466},{"series":"RhyDe","band":56,"value":0.478},{"series":"RhyDe","band":57,"value":0.490},{"series":"RhyDe","band":58,"value":0.485},{"series":"RhyDe","band":59,"value":0.483},{"series":"RhyDe","band":60,"value":0.476},
{"series":"RhyDe","band":61,"value":0.507},{"series":"RhyDe","band":62,"value":0.497},{"series":"RhyDe","band":63,"value":0.501},{"series":"RhyDe","band":64,"value":0.499},{"series":"RhyDe","band":65,"value":0.465},{"series":"RhyDe","band":66,"value":0.440},{"series":"RhyDe","band":67,"value":0.410},{"series":"RhyDe","band":68,"value":0.396},{"series":"RhyDe","band":69,"value":0.370},{"series":"RhyDe","band":70,"value":0.300},
{"series":"RhyDe","band":71,"value":0.213},{"series":"RhyDe","band":72,"value":0.236},{"series":"RhyDe","band":73,"value":0.232},{"series":"RhyDe","band":74,"value":0.227},{"series":"RhyDe","band":75,"value":0.245},{"series":"RhyDe","band":76,"value":0.235},{"series":"RhyDe","band":77,"value":0.213},{"series":"RhyDe","band":78,"value":0.245},{"series":"RhyDe","band":79,"value":0.236},{"series":"RhyDe","band":80,"value":0.295},
{"series":"RhyDe","band":81,"value":0.330},{"series":"RhyDe","band":82,"value":0.365},{"series":"RhyDe","band":83,"value":0.405},{"series":"RhyDe","band":84,"value":0.439},{"series":"RhyDe","band":85,"value":0.435},{"series":"RhyDe","band":86,"value":0.452},{"series":"RhyDe","band":87,"value":0.481}
]
},
"hconcat": [
{
  "width": 437, "height": 405,
  "data": {"name": "left"},
  "mark": {"type": "line"},
  "encoding": {
    "x": {"field": "band", "type": "quantitative", "scale": {"domain": [0, 89], "nice": false, "zero": false}, "axis": {"values": [0, 20, 40, 60, 80], "title": "Band", "labelPadding": 20, "titlePadding": 7}},
    "y": {"field": "value", "type": "quantitative", "scale": {"domain": [0, 0.3], "nice": false, "zero": false}, "axis": {"values": [0, 0.05, 0.1, 0.15, 0.2, 0.25, 0.3], "format": "~g", "title": null, "labelPadding": 13}},
    "color": {"field": "series", "type": "nominal", "scale": {"domain": ["Clean spectrum", "Observation", "BM4D", "NAILRMA", "FastHyDe", "RhyDe"], "range": ["#000000", "#808080", "#EDB120", "#00FF00", "#0000FF", "#FF0000"]},
      "legend": {"title": null, "orient": "none", "legendX": 15, "legendY": 0, "symbolType": "M-1,0H11", "symbolSize": 100, "labelOffset": 49, "labelFontSize": 18, "labelFont": "Liberation Sans", "labelColor": "#000000", "strokeColor": "#262626", "fillColor": "#ffffff", "padding": 6, "rowPadding": 7, "labelExpr": "datum.label + '\u00a0\u00a0\u00a0\u00a0\u00a0\u00a0\u00a0\u00a0'"}},
    "strokeDash": {"field": "series", "type": "nominal", "scale": {"domain": ["Clean spectrum", "Observation", "BM4D", "NAILRMA", "FastHyDe", "RhyDe"], "range": [[1, 0], [11, 7], [1, 0], [1, 0], [1, 0], [1, 0]]},
      "legend": {"title": null, "orient": "none", "legendX": 15, "legendY": 0, "symbolType": "M-1,0H11", "symbolSize": 100, "labelOffset": 49, "labelFontSize": 18, "labelFont": "Liberation Sans", "labelColor": "#000000", "strokeColor": "#262626", "fillColor": "#ffffff", "padding": 6, "rowPadding": 7, "labelExpr": "datum.label + '\u00a0\u00a0\u00a0\u00a0\u00a0\u00a0\u00a0\u00a0'"}},
    "strokeWidth": {"field": "series", "type": "nominal", "scale": {"domain": ["Clean spectrum", "Observation", "BM4D", "NAILRMA", "FastHyDe", "RhyDe"], "range": [5.5, 2.6, 2.8, 2.8, 2.8, 2.8]},
      "legend": {"title": null, "orient": "none", "legendX": 15, "legendY": 0, "symbolType": "M-1,0H11", "symbolSize": 100, "labelOffset": 49, "labelFontSize": 18, "labelFont": "Liberation Sans", "labelColor": "#000000", "strokeColor": "#262626", "fillColor": "#ffffff", "padding": 6, "rowPadding": 7, "labelExpr": "datum.label + '\u00a0\u00a0\u00a0\u00a0\u00a0\u00a0\u00a0\u00a0'"}}
  }
},
{
  "width": 446, "height": 400,
  "data": {"name": "right"},
  "mark": {"type": "line"},
  "encoding": {
    "x": {"field": "band", "type": "quantitative", "scale": {"domain": [0, 88], "nice": false, "zero": false}, "axis": {"values": [0, 20, 40, 60, 80], "title": "Band", "labelPadding": 20, "titlePadding": 7}},
    "y": {"field": "value", "type": "quantitative", "scale": {"domain": [0.15, 0.6], "nice": false, "zero": false}, "axis": {"values": [0.2, 0.3, 0.4, 0.5, 0.6], "format": "~g", "title": null, "labelPadding": 23}},
    "color": {"field": "series", "type": "nominal", "scale": {"domain": ["Clean spectrum", "Observation", "BM4D", "NAILRMA", "FastHyDe", "RhyDe"], "range": ["#000000", "#808080", "#EDB120", "#00FF00", "#0000FF", "#FF0000"]},
      "legend": {"title": null, "orient": "none", "legendX": 9, "legendY": -4, "symbolType": "M-1,0H11", "symbolSize": 100, "labelOffset": 49, "labelFontSize": 18, "labelFont": "Liberation Sans", "labelColor": "#000000", "strokeColor": "#262626", "fillColor": "#ffffff", "padding": 6, "rowPadding": 7, "labelExpr": "datum.label + '\u00a0\u00a0\u00a0\u00a0\u00a0\u00a0\u00a0\u00a0'"}},
    "strokeDash": {"field": "series", "type": "nominal", "scale": {"domain": ["Clean spectrum", "Observation", "BM4D", "NAILRMA", "FastHyDe", "RhyDe"], "range": [[1, 0], [11, 7], [1, 0], [1, 0], [1, 0], [1, 0]]},
      "legend": {"title": null, "orient": "none", "legendX": 9, "legendY": -4, "symbolType": "M-1,0H11", "symbolSize": 100, "labelOffset": 49, "labelFontSize": 18, "labelFont": "Liberation Sans", "labelColor": "#000000", "strokeColor": "#262626", "fillColor": "#ffffff", "padding": 6, "rowPadding": 7, "labelExpr": "datum.label + '\u00a0\u00a0\u00a0\u00a0\u00a0\u00a0\u00a0\u00a0'"}},
    "strokeWidth": {"field": "series", "type": "nominal", "scale": {"domain": ["Clean spectrum", "Observation", "BM4D", "NAILRMA", "FastHyDe", "RhyDe"], "range": [5.5, 2.6, 2.8, 2.8, 2.8, 2.8]},
      "legend": {"title": null, "orient": "none", "legendX": 9, "legendY": -4, "symbolType": "M-1,0H11", "symbolSize": 100, "labelOffset": 49, "labelFontSize": 18, "labelFont": "Liberation Sans", "labelColor": "#000000", "strokeColor": "#262626", "fillColor": "#ffffff", "padding": 6, "rowPadding": 7, "labelExpr": "datum.label + '\u00a0\u00a0\u00a0\u00a0\u00a0\u00a0\u00a0\u00a0'"}}
  }
}
],
"resolve": {
  "scale": {"color": "independent", "strokeDash": "independent", "strokeWidth": "independent"},
  "legend": {"color": "independent", "strokeDash": "independent", "strokeWidth": "independent"}
}
}
